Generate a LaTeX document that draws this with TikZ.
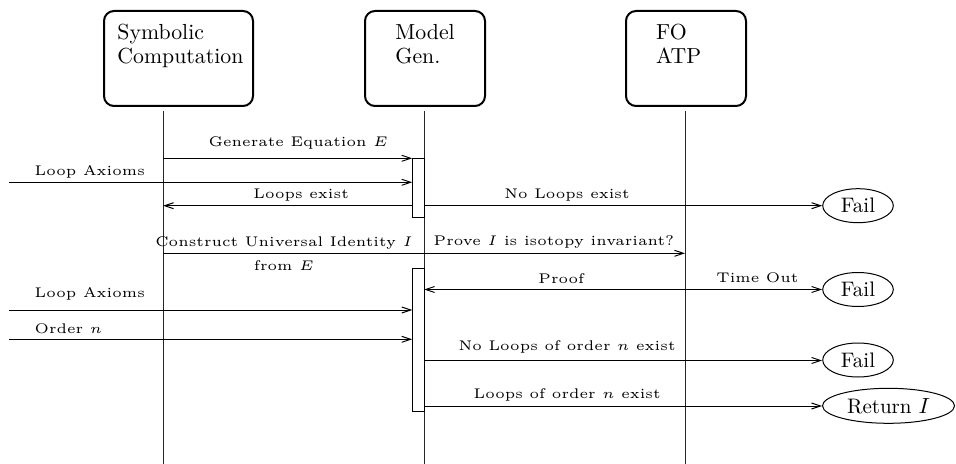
\documentclass[tikz,border=0pt]{standalone}
\usepackage{graphicx}
\usetikzlibrary{shapes.geometric,arrows.meta}
\newcommand\lbltext[1]{\scalebox{1.4}{\fontsize{5}{8.33}\selectfont #1}}
\newcommand\boxtext[1]{{\fontsize{10.9}{12}\selectfont #1}}
\newcommand\ovaltext[1]{{\fontsize{10.5}{12}\selectfont #1}}
\tikzset{
  actor/.style={draw, line width=1pt, rounded corners=5pt, anchor=north west, inner sep=0, minimum height=47.5pt},
  lifeline/.style={line width=0.5pt, black!85},
  actbox/.style={draw, fill=white, line width=0.5pt},
  msg/.style={line width=0.5pt, -{Straight Barb[length=4.5pt,width=3pt]}},
  lbl/.style={inner sep=0, anchor=base west},
  endnode/.style={draw, ellipse, line width=0.5pt, inner sep=0, minimum height=17pt},
}
\begin{document}
\begin{tikzpicture}[x=0.5pt,y=-0.5pt]
\useasboundingbox (0,0) rectangle (956,464);
% actors
\node[actor, minimum width=74.5pt] (sym) at (103,10) {};
\node[actor, minimum width=60pt] (mod) at (364,10) {};
\node[actor, minimum width=60pt] (fo) at (625,10) {};
\node[lbl] (symt) at (117,40) {\boxtext{\begin{tabular}[t]{@{}l@{}}Symbolic\\Computation\end{tabular}}};
\node[lbl] (modt) at (395,40) {\boxtext{\begin{tabular}[t]{@{}l@{}}Model\\Gen.\end{tabular}}};
\node[lbl] (fot) at (655.7,39.5) {\boxtext{\begin{tabular}[t]{@{}l@{}}FO\\ATP\end{tabular}}};
% lifelines
\coordinate (s0) at (163,111); \coordinate (s1) at (163,464);
\coordinate (m0) at (424,111); \coordinate (m1) at (424,464);
\coordinate (f0) at (685,111); \coordinate (f1) at (685,464);
\draw[lifeline] (s0) -- (s1);
\draw[lifeline] (m0) -- (m1);
\draw[lifeline] (f0) -- (f1);
% activation boxes
\draw[actbox] (412.3,158.3) rectangle (424,217.3);
\draw[actbox] (412.3,269) rectangle (424,411);
% end nodes
\node[endnode, minimum width=35.3pt] (fail1) at (858,205.7) {\ovaltext{Fail}};
\node[endnode, minimum width=35.3pt] (fail2) at (858,289.5) {\ovaltext{Fail}};
\node[endnode, minimum width=35.3pt] (fail3) at (858,360) {\ovaltext{Fail}};
\node[endnode, minimum width=66pt, minimum height=17.5pt] (ret) at (888.5,405.8) {\ovaltext{Return $I$}};
% message coordinates
\coordinate (g0) at (163,158.3); \coordinate (g1) at (412.3,158.3);
\coordinate (la0) at (9,182.3); \coordinate (la1) at (412.3,182.3);
\coordinate (le0) at (412.3,205.7); \coordinate (le1) at (163,205.7);
\coordinate (nl0) at (424,205.7);
\coordinate (c0) at (163,253.3); \coordinate (c1) at (685,253.3);
\coordinate (p0) at (685,289.5); \coordinate (p1) at (424,289.5);
\coordinate (lb0) at (9,310); \coordinate (lb1) at (412.3,310);
\coordinate (o0) at (9,339.3); \coordinate (o1) at (412.3,339.3);
\coordinate (no0) at (424,360.5);
\coordinate (yo0) at (424,406);
% messages
\draw[msg] (g0) -- (g1);
\draw[msg] (la0) -- (la1);
\draw[msg] (le0) -- (le1);
\draw[msg] (nl0) -- (nl0 -| fail1.west);
\draw[msg] (c0) -- (c1);
\draw[msg] (p0) -- (p1);
\draw[msg] (p0) -- (p0 -| fail2.west);
\draw[msg] (lb0) -- (lb1);
\draw[msg] (o0) -- (o1);
\draw[msg] (no0) -- (no0 -| fail3.west);
\draw[msg] (yo0) -- (yo0 -| ret.west);
% labels
\node[lbl] (t1) at (208.3,146.7) {\lbltext{Generate Equation $E$}};
\node[lbl] (t2) at (34.3,175.7) {\lbltext{Loop Axioms}};
\node[lbl] (t3) at (253,198.3) {\lbltext{Loops exist}};
\node[lbl] (t4) at (504,199) {\lbltext{No Loops exist}};
\node[inner sep=0, anchor=base] (t5) at (284,246.7) {\lbltext{\begin{tabular}[t]{@{}c@{}}Construct Universal Identity $I$\\from $E$\end{tabular}}};
\node[lbl] (t6) at (433.3,246) {\lbltext{Prove $I$ is isotopy invariant?}};
\node[lbl] (t7) at (538,283.3) {\lbltext{Proof}};
\node[lbl] (t8) at (716,282.7) {\lbltext{Time Out}};
\node[lbl] (t9) at (34.3,297.3) {\lbltext{Loop Axioms}};
\node[lbl] (t10) at (34.3,333.3) {\lbltext{Order $n$}};
\node[lbl] (t11) at (458.3,350) {\lbltext{No Loops of order $n$ exist}};
\node[lbl] (t12) at (473.3,398) {\lbltext{Loops of order $n$ exist}};
\end{tikzpicture}
\end{document}
